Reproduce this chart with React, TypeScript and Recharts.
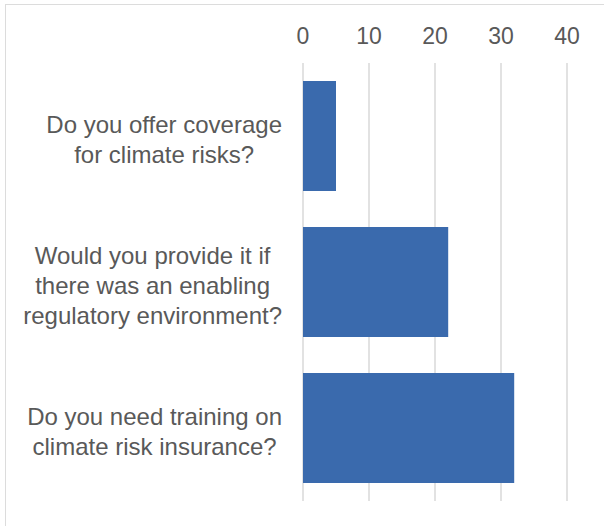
import React from 'react';
import { BarChart, Bar, XAxis, YAxis, CartesianGrid } from 'recharts';

const categories = [
  'Do you offer coverage\nfor climate risks?',
  'Would you provide it if\nthere was an enabling\nregulatory environment?',
  'Do you need training on\nclimate risk insurance?',
];
const responses = [5, 22, 32];
const xTicks = [0, 10, 20, 30, 40];

const data = categories.map((name, i) => ({ name, value: responses[i] }));

const FONT = '"Liberation Sans", Arial, sans-serif';
const TEXT = '#595959';
const LABEL_SIZE = 24;

let ctx: CanvasRenderingContext2D | null = null;
const measure = (s: string) => {
  if (!ctx) ctx = document.createElement('canvas').getContext('2d');
  if (!ctx) return s.length * LABEL_SIZE * 0.5;
  ctx.font = `${LABEL_SIZE}px ${FONT}`;
  return ctx.measureText(s).width;
};

// Excel-style wrapped labels: lines centred on each other, block right-aligned to the axis
const CategoryTick = ({ x, y, payload }: any) => {
  const lines: string[] = String(payload.value).split('\n');
  const lineHeight = 30;
  const first = 11.5 - ((lines.length - 1) * lineHeight) / 2;
  const widest = Math.max(...lines.map(measure));
  const cx = x - widest / 2;
  return (
    <text x={cx} y={y} textAnchor="middle" fill={TEXT} fontSize={LABEL_SIZE} fontFamily={FONT}>
      {lines.map((line, i) => (
        <tspan key={i} x={cx} dy={i === 0 ? first : lineHeight}>
          {line}
        </tspan>
      ))}
    </text>
  );
};

const ValueTick = ({ x, y, payload }: any) => (
  <text x={x} y={y} textAnchor="middle" fill={TEXT} fontSize={23} fontFamily={FONT}>
    {payload.value}
  </text>
);

export default function App() {
  return (
    <div style={{ position: 'fixed', left: 0, top: 0, width: 604, height: 526, overflow: 'hidden', background: '#fff' }}>
      <div
        style={{
          position: 'absolute',
          left: 5,
          top: 4,
          width: 640,
          height: 560,
          border: '1.5px solid #dcdcdc',
        }}
      />
      <div style={{ position: 'absolute', left: 0, top: 0 }}>
        <BarChart
          width={604}
          height={526}
          data={data}
          layout="vertical"
          margin={{ top: 0, right: 37, bottom: 25, left: 0 }}
          barCategoryGap="12.4%"
        >
          <CartesianGrid horizontal={false} stroke="#d9d9d9" strokeWidth={1.5} />
          <XAxis
            type="number"
            orientation="top"
            domain={[0, 40]}
            ticks={xTicks}
            axisLine={false}
            tickLine={false}
            height={63}
            tickMargin={13}
            tick={<ValueTick />}
            interval={0}
          />
          <YAxis
            type="category"
            dataKey="name"
            width={303}
            axisLine={false}
            tickLine={false}
            tickMargin={15}
            tick={<CategoryTick />}
            interval={0}
          />
          <Bar dataKey="value" fill="#3a6aad" isAnimationActive={false} />
        </BarChart>
      </div>
    </div>
  );
}
